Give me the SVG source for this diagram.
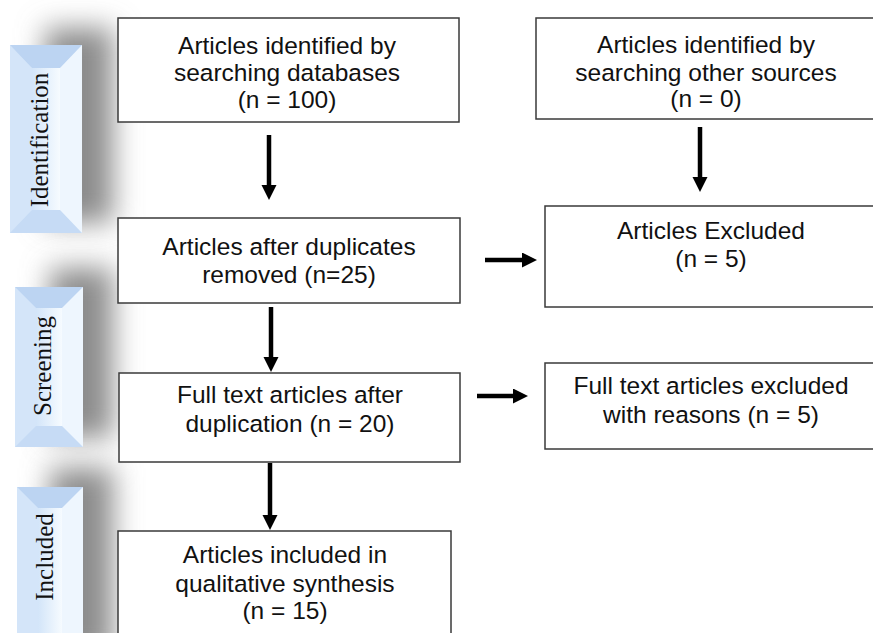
<svg xmlns="http://www.w3.org/2000/svg" width="873" height="633" viewBox="0 0 873 633">
<style>
.box{fill:#fff;stroke:#3a3a3a;stroke-width:1.5}
.t{font-family:"Liberation Sans",Arial,sans-serif;font-size:24.5px;fill:#111;text-anchor:middle}
.side{font-family:"Liberation Serif","Times New Roman",serif;font-size:25px;fill:#111;text-anchor:middle}
.conn line{stroke:#000;stroke-width:4.5;marker-end:url(#ah)}
.shadow{fill:#8c8c8c;filter:url(#blur)}
.bt{fill:#bcd4f2}.bb{fill:#c6dbf5}.bl{fill:#d4e5f9}.br{fill:#eef6fe}
</style>
<defs>
<filter id="blur" x="-60%" y="-40%" width="220%" height="180%"><feGaussianBlur stdDeviation="14"/></filter>
<linearGradient id="inner" x1="0" y1="0" x2="1" y2="0"><stop offset="0" stop-color="#d3e5f9"/><stop offset="1" stop-color="#f6fbff"/></linearGradient>
<marker id="ah" markerUnits="userSpaceOnUse" markerWidth="16" markerHeight="16" refX="0" refY="7.5" orient="auto"><path d="M0,0 L15,7.5 L0,15 z" fill="#000"/></marker>
</defs>
<rect width="873" height="633" fill="#fff"/>

<g id="shadows">
<rect class="shadow" x="45" y="28" width="68" height="195"/>
<rect class="shadow" x="50" y="268" width="63" height="170"/>
<rect class="shadow" x="50" y="468" width="63" height="190"/>
</g>

<g id="stage-identification">
<rect x="10" y="45" width="72" height="188" fill="#c5dbf5"/>
<polygon class="bt" points="10,45 82,45 60,68 32,68"/>
<polygon class="bb" points="10,233 82,233 60,210 32,210"/>
<polygon class="bl" points="10,45 32,68 32,210 10,233"/>
<polygon class="br" points="82,45 60,68 60,210 82,233"/>
<rect x="32" y="68" width="28" height="142" fill="url(#inner)"/>
<text class="side" transform="translate(47.5,140) rotate(-90)">Identification</text>
</g>

<g id="stage-screening">
<rect x="15" y="287" width="68" height="160" fill="#c5dbf5"/>
<polygon class="bt" points="15,287 83,287 62,308 36,308"/>
<polygon class="bb" points="15,447 83,447 62,426 36,426"/>
<polygon class="bl" points="15,287 36,308 36,426 15,447"/>
<polygon class="br" points="83,287 62,308 62,426 83,447"/>
<rect x="36" y="308" width="26" height="118" fill="url(#inner)"/>
<text class="side" transform="translate(50.5,366) rotate(-90)">Screening</text>
</g>

<g id="stage-included">
<rect x="17" y="487" width="66" height="150" fill="#c5dbf5"/>
<polygon class="bt" points="17,487 83,487 62,508 38,508"/>
<polygon class="bl" points="17,487 38,508 38,640 17,640"/>
<polygon class="br" points="83,487 62,508 62,640 83,640"/>
<rect x="38" y="508" width="24" height="132" fill="url(#inner)"/>
<text class="side" transform="translate(52.5,557) rotate(-90)">Included</text>
</g>

<g id="n-db">
<rect class="box" x="118" y="18" width="341" height="104"/>
<text class="t" x="287" y="54">Articles identified by</text>
<text class="t" x="287" y="81">searching databases</text>
<text class="t" x="287" y="108">(n = 100)</text>
</g>

<g id="n-other">
<rect class="box" x="536" y="18" width="342" height="101"/>
<text class="t" x="706" y="53">Articles identified by</text>
<text class="t" x="706" y="81">searching other sources</text>
<text class="t" x="706" y="107">(n = 0)</text>
</g>

<g id="n-dup">
<rect class="box" x="118" y="218" width="342" height="85"/>
<text class="t" x="289" y="255">Articles after duplicates</text>
<text class="t" x="289" y="283">removed (n=25)</text>
</g>

<g id="n-excl">
<rect class="box" x="545" y="206" width="333" height="101"/>
<text class="t" x="711" y="239">Articles Excluded</text>
<text class="t" x="711" y="267">(n = 5)</text>
</g>

<g id="n-full">
<rect class="box" x="119" y="373" width="341" height="89"/>
<text class="t" x="290" y="403">Full text articles after</text>
<text class="t" x="290" y="432">duplication (n = 20)</text>
</g>

<g id="n-fullexcl">
<rect class="box" x="545" y="363" width="333" height="86"/>
<text class="t" x="711" y="394">Full text articles excluded</text>
<text class="t" x="711" y="423">with reasons (n = 5)</text>
</g>

<g id="n-incl">
<rect class="box" x="118" y="531" width="333" height="110"/>
<text class="t" x="285" y="563">Articles included in</text>
<text class="t" x="285" y="592">qualitative synthesis</text>
<text class="t" x="285" y="619">(n = 15)</text>
</g>

<g id="connectors" class="conn">
<line x1="269" y1="135" x2="269" y2="185"/>
<line x1="700" y1="127" x2="700" y2="177"/>
<line x1="271" y1="307" x2="271" y2="357"/>
<line x1="270" y1="463" x2="270" y2="515"/>
<line x1="485" y1="260" x2="522" y2="260"/>
<line x1="477" y1="396" x2="513" y2="396"/>
</g>
</svg>
